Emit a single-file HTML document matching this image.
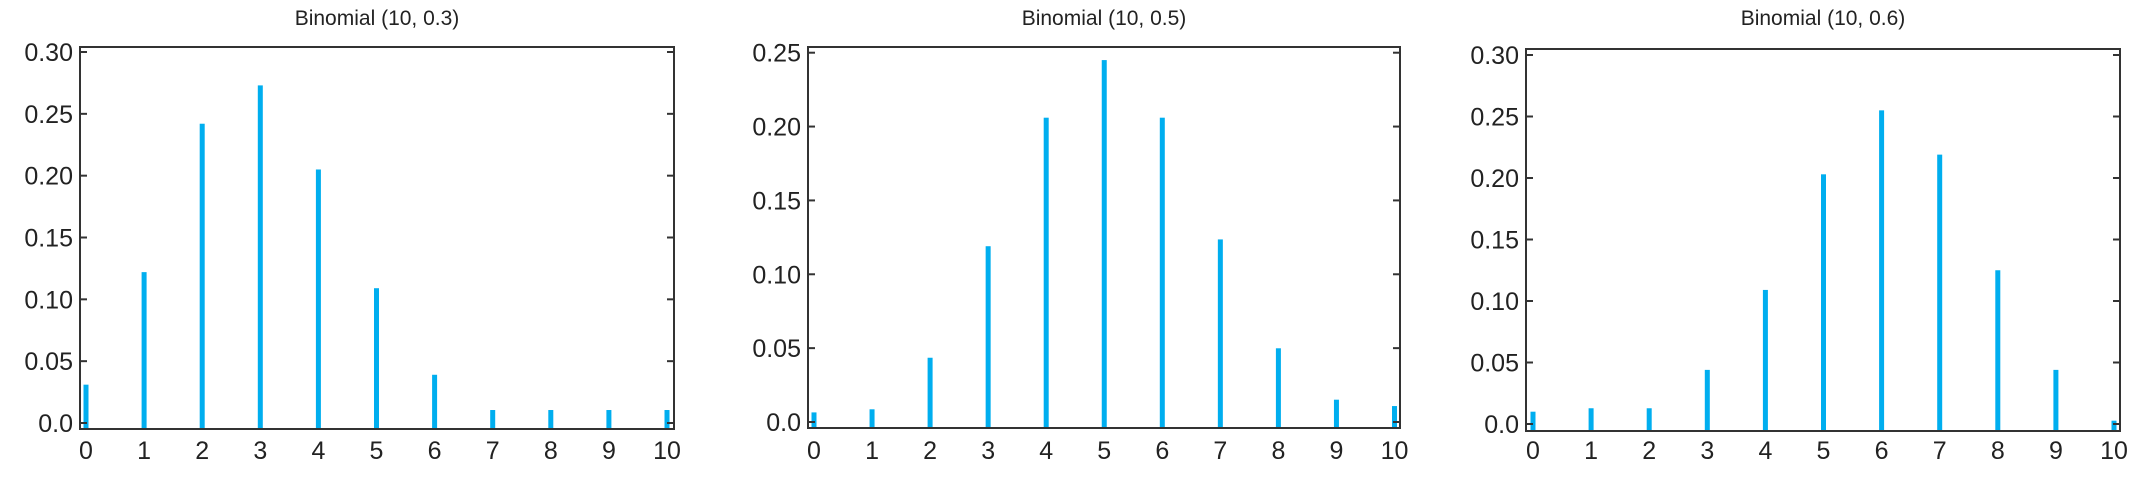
<!DOCTYPE html>
<html><head><meta charset="utf-8"><style>
html,body{margin:0;padding:0;background:#fff;}
svg{display:block;}
text{font-family:"Liberation Sans",Arial,sans-serif;fill:#222;}
</style></head>
<body>
<svg id="chart" width="2150" height="481" viewBox="0 0 2150 481" xmlns="http://www.w3.org/2000/svg"></svg>
<script>
const categories = [0,1,2,3,4,5,6,7,8,9,10];
const titles = ["Binomial (10, 0.3)", "Binomial (10, 0.5)", "Binomial (10, 0.6)"];
const values03 = [0.031,0.122,0.242,0.273,0.205,0.109,0.039,0.0105,0.0105,0.0105,0.0105];
const values05 = [0.0065,0.0086,0.0435,0.119,0.206,0.245,0.206,0.1236,0.0499,0.0151,0.0108];
const values06 = [0.010,0.0128,0.0128,0.044,0.109,0.203,0.255,0.219,0.125,0.044,0.0027];
const yTicks1 = ["0.0","0.05","0.10","0.15","0.20","0.25","0.30"];
const yTicks2 = ["0.0","0.05","0.10","0.15","0.20","0.25"];
const yTicks3 = ["0.0","0.05","0.10","0.15","0.20","0.25","0.30"];

const NS = "http://www.w3.org/2000/svg";
const svg = document.getElementById("chart");
function mk(tag, attrs, parent){
  const e = document.createElementNS(NS, tag);
  for (const k in attrs) e.setAttribute(k, attrs[k]);
  parent.appendChild(e);
  return e;
}
const panels = [
  {vals: values03, ticks: yTicks1, L:80, R:674, T:47, B:429, y0:423, yTop:52, x0:86, x10:667, name:"panel-p03"},
  {vals: values05, ticks: yTicks2, L:808, R:1400, T:47, B:428, y0:422, yTop:52.7, x0:814, x10:1394.5, name:"panel-p05"},
  {vals: values06, ticks: yTicks3, L:1526, R:2120, T:49, B:431, y0:424, yTop:55, x0:1533, x10:2114, name:"panel-p06"}
];
panels.forEach((p, pi) => {
  const g = mk("g", {}, svg);
  
  
  const maxT = parseFloat(p.ticks[p.ticks.length-1]);
  const yScale = v => p.y0 - (v / maxT) * (p.y0 - p.yTop);
  const xScale = c => p.x0 + (c - categories[0]) / (categories[categories.length-1] - categories[0]) * (p.x10 - p.x0);
  // title
  const t = mk("text", {x:(p.L+p.R)/2, y:25, "font-size":21, "text-anchor":"middle"}, g);
  t.textContent = titles[pi];
  
  
  // bars
  p.vals.forEach((v, i) => {
    const x = xScale(categories[i]);
    const y = yScale(v);
    const r = mk("rect", {x:x-2.5, y:y, width:5, height:p.B - y, fill:"#00aeef"}, g);
    
    
  });
  // frame
  const f = mk("rect", {x:p.L, y:p.T, width:p.R-p.L, height:p.B-p.T, fill:"none", stroke:"#333", "stroke-width":2}, g);
  
  
  // y ticks
  p.ticks.forEach(lbl => {
    const y = yScale(parseFloat(lbl));
    mk("line", {x1:p.L, x2:p.L+7, y1:y, y2:y, stroke:"#333", "stroke-width":2}, g);
    mk("line", {x1:p.R-7, x2:p.R, y1:y, y2:y, stroke:"#333", "stroke-width":2}, g);
    const tx = mk("text", {x:p.L-7, y:y+9, "font-size":25, "text-anchor":"end"}, g);
    tx.textContent = lbl;
    
    
  });
  // x labels
  categories.forEach(c => {
    const tx = mk("text", {x:xScale(c), y:459, "font-size":25, "text-anchor":"middle"}, g);
    tx.textContent = String(c);
    
    
  });
});
</script>
</body></html>
